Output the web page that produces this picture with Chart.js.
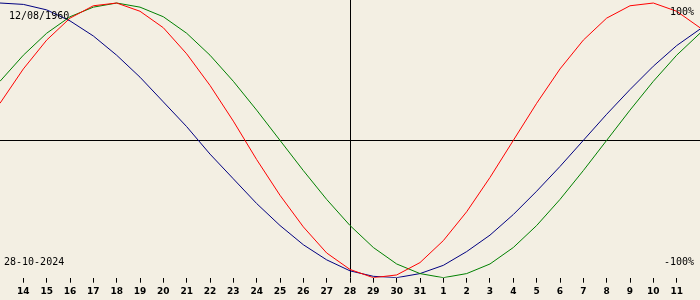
<!DOCTYPE html>
<html>
<head>
<meta charset="utf-8">
<script src="https://cdn.jsdelivr.net/npm/chart.js@4.4.1/dist/chart.umd.min.js"></script>
<style>
  html, body { margin: 0; padding: 0; background: #f3efe3; }
  #wrap { width: 700px; height: 300px; position: relative; }
</style>
</head>
<body>
<div id="wrap"><canvas id="bio"></canvas></div>
<script>
// days shown, 13 Oct .. 12 Nov (first and last sit on the edges, no tick)
var dayLabels = ["13", "14", "15", "16", "17", "18", "19", "20", "21", "22", "23",
  "24", "25", "26", "27", "28", "29", "30", "31", "1", "2", "3", "4", "5", "6",
  "7", "8", "9", "10", "11", "12"];

var physical = [0.27, 0.52, 0.73, 0.89, 0.98, 1.0, 0.94, 0.82, 0.63, 0.4, 0.14,
  -0.14, -0.4, -0.63, -0.82, -0.94, -1.0, -0.98, -0.89, -0.73, -0.52, -0.27,
  0.0, 0.27, 0.52, 0.73, 0.89, 0.98, 1.0, 0.94, 0.82];

var emotional = [0.43, 0.62, 0.78, 0.9, 0.97, 1.0, 0.97, 0.9, 0.78, 0.62, 0.43,
  0.22, 0.0, -0.22, -0.43, -0.62, -0.78, -0.9, -0.97, -1.0, -0.97, -0.9, -0.78,
  -0.62, -0.43, -0.22, 0.0, 0.22, 0.43, 0.62, 0.78];

var intellectual = [1.0, 0.99, 0.95, 0.87, 0.76, 0.62, 0.46, 0.28, 0.1, -0.1,
  -0.28, -0.46, -0.62, -0.76, -0.87, -0.95, -0.99, -1.0, -0.97, -0.91, -0.81,
  -0.69, -0.54, -0.37, -0.19, 0.0, 0.19, 0.37, 0.54, 0.69, 0.81];

var birthText = "12/08/1960";
var todayText = "28-10-2024";
var topText = "100%";
var bottomText = "-100%";
var todayIndex = 14;

function points(values) {
  return values.map(function (v, i) {
    return { x: i - 1, y: v };
  });
}

// cross through today / zero, and the corner texts
var overlay = {
  id: "overlay",
  beforeDatasetsDraw: function (chart) {
    var ctx = chart.ctx;
    var a = chart.chartArea;
    var x = Math.round(chart.scales.x.getPixelForValue(todayIndex)) + 0.5;
    var y = Math.round(chart.scales.y.getPixelForValue(0)) + 0.5;
    ctx.save();
    ctx.strokeStyle = "#000";
    ctx.lineWidth = 1;
    ctx.beginPath();
    ctx.moveTo(x, a.top);
    ctx.lineTo(x, a.bottom);
    ctx.moveTo(a.left, y);
    ctx.lineTo(a.right, y);
    ctx.stroke();
    ctx.restore();
  },
  afterDatasetsDraw: function (chart) {
    var ctx = chart.ctx;
    var a = chart.chartArea;
    ctx.save();
    ctx.fillStyle = "#000";
    ctx.font = "10px 'DejaVu Sans Mono'";
    ctx.textBaseline = "middle";
    ctx.textAlign = "left";
    ctx.fillText(birthText, 9, 16);
    ctx.fillText(todayText, 4, 262);
    ctx.textAlign = "right";
    ctx.fillText(topText, a.right - 6, 12);
    ctx.fillText(bottomText, a.right - 6, 262);
    ctx.restore();
  }
};

new Chart(document.getElementById("bio").getContext("2d"), {
  type: "line",
  data: {
    datasets: [
      { data: points(physical), borderColor: "#ff0000" },
      { data: points(emotional), borderColor: "#008000" },
      { data: points(intellectual), borderColor: "#000080" }
    ]
  },
  options: {
    responsive: true,
    maintainAspectRatio: false,
    animation: false,
    layout: { padding: 0 },
    elements: {
      line: { borderWidth: 1, tension: 0, fill: false },
      point: { radius: 0 }
    },
    plugins: {
      legend: { display: false },
      tooltip: { enabled: false }
    },
    scales: {
      x: {
        type: "linear",
        min: -1,
        max: 29,
        afterBuildTicks: function (scale) {
          var t = [];
          for (var i = 0; i <= 28; i++) t.push({ value: i });
          scale.ticks = t;
        },
        border: { display: false },
        grid: {
          drawOnChartArea: false,
          drawTicks: true,
          tickLength: 5,
          color: "#000"
        },
        ticks: {
          autoSkip: false,
          maxRotation: 0,
          padding: 1,
          color: "#000",
          font: { family: "DejaVu Sans", size: 9, weight: "bold", lineHeight: 1.7 },
          callback: function (v) {
            return dayLabels[v + 1];
          }
        }
      },
      y: {
        display: false,
        min: -1,
        max: 1.022
      }
    }
  },
  plugins: [overlay]
});
</script>
</body>
</html>
